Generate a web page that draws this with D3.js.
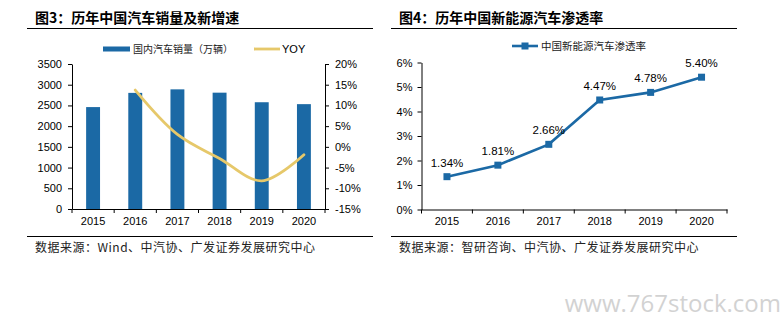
<!DOCTYPE html>
<html>
<head>
<meta charset="utf-8">
<script src="https://cdn.jsdelivr.net/npm/d3@7"></script>
<style>
  body { margin: 0; background: #fff; }
  svg { display: block; }
  .num { font-family: "Liberation Sans Narrow", "Arial Narrow", "Liberation Sans", Arial, sans-serif; font-size: 11px; fill: #000; }
  .cjk { font-family: "Noto Sans CJK SC", sans-serif; }
</style>
</head>
<body>
<div id="chart"></div>
<script>
// years shared by both panels
var years = ["2015", "2016", "2017", "2018", "2019", "2020"];

// panel 3: domestic car sales (10k units) and yoy growth (%)
var salesValues = [2460, 2803, 2888, 2808, 2577, 2531];
var yoyYears = ["2016", "2017", "2018", "2019", "2020"];
var yoyValues = [13.7, 3.0, -2.8, -8.2, -1.9];
var salesTicks = [0, 500, 1000, 1500, 2000, 2500, 3000, 3500];
var yoyTicks = [-15, -10, -5, 0, 5, 10, 15, 20];

// panel 4: new energy vehicle penetration (%)
var nevValues = [1.34, 1.81, 2.66, 4.47, 4.78, 5.40];
var nevTicks = [0, 1, 2, 3, 4, 5, 6];

var blue = "#1b69a5";
var gold = "#e6c86a";

var svg = d3.select("#chart")
  .append("svg")
    .attr("width", 783)
    .attr("height", 323);

svg.append("rect").attr("width", 783).attr("height", 323).attr("fill", "#fff");

// titles, rules and sources
function frame(x0, x1, tx, title, source) {
  svg.append("text")
    .attr("class", "cjk")
    .attr("x", tx).attr("y", 23)
    .style("font-size", "14px").style("font-weight", "bold")
    .text(title);
  svg.append("line")
    .attr("x1", x0).attr("x2", x1).attr("y1", 28.5).attr("y2", 28.5)
    .attr("stroke", "#000").attr("stroke-width", 1.2);
  svg.append("line")
    .attr("x1", x0).attr("x2", x1).attr("y1", 236.5).attr("y2", 236.5)
    .attr("stroke", "#000").attr("stroke-width", 1.2);
  svg.append("text")
    .attr("class", "cjk")
    .attr("x", tx).attr("y", 252)
    .style("font-size", "12px").style("letter-spacing", "0.5px").attr("fill", "#222")
    .text(source);
}
frame(27, 373, 35, "图3：历年中国汽车销量及新增速", "数据来源：Wind、中汽协、广发证券发展研究中心");
frame(391, 737, 399, "图4：历年中国新能源汽车渗透率", "数据来源：智研咨询、中汽协、广发证券发展研究中心");

// category ticks sit on the band edges, labels in the middle
function bottomAxis(x, y0) {
  var g = svg.append("g")
    .attr("class", "num")
    .attr("transform", "translate(0," + y0 + ")")
    .call(d3.axisBottom(x).tickSize(0).tickPadding(8).tickSizeOuter(0));
  g.select(".domain").attr("stroke", "#000");
  g.selectAll("text").attr("class", "num").attr("fill", "#000").attr("font-family", null).attr("font-size", null);
  var edges = x.domain().map(d => x(d)).concat([x.range()[1]]);
  g.selectAll(".edge")
    .data(edges)
    .enter()
    .append("line")
    .attr("x1", d => d).attr("x2", d => d)
    .attr("y1", 0).attr("y2", 4)
    .attr("stroke", "#000");
}

function styleAxis(g) {
  g.select(".domain").attr("stroke", "#000");
  g.selectAll("line").attr("stroke", "#000");
  g.selectAll("text").attr("class", "num").attr("fill", "#000").attr("font-family", null).attr("font-size", null);
}

// ---------- panel 3 ----------
var x3 = d3.scaleBand().domain(years).range([72, 325]);
var yL = d3.scaleLinear().domain([0, 3500]).range([209, 64]);
var yR = d3.scaleLinear().domain([-15, 20]).range([209, 64]);

var barW = x3.bandwidth() * 0.33;
svg.selectAll(".bar")
  .data(years)
  .enter()
  .append("rect")
  .attr("x", d => x3(d) + (x3.bandwidth() - barW) / 2)
  .attr("y", (d, i) => yL(salesValues[i]))
  .attr("width", barW)
  .attr("height", (d, i) => yL(0) - yL(salesValues[i]))
  .attr("fill", blue);

svg.append("g")
  .attr("transform", "translate(72,0)")
  .call(d3.axisLeft(yL).tickValues(salesTicks).tickSize(4).tickPadding(6).tickSizeOuter(0).tickFormat(d3.format("d")))
  .call(styleAxis);

svg.append("g")
  .attr("transform", "translate(325,0)")
  .call(d3.axisRight(yR).tickValues(yoyTicks).tickSize(4).tickPadding(6).tickSizeOuter(0).tickFormat(d => d + "%"))
  .call(styleAxis);

bottomAxis(x3, 209);

var yoyLine = d3.line()
  .x((d, i) => x3(yoyYears[i]) + x3.bandwidth() / 2)
  .y(d => yR(d))
  .curve(d3.curveCatmullRom.alpha(0.5));

svg.append("path")
  .datum(yoyValues)
  .attr("d", yoyLine)
  .attr("fill", "none")
  .attr("stroke", gold)
  .attr("stroke-width", 2.8)
  .attr("stroke-linecap", "round");

// legend
svg.append("rect").attr("x", 103).attr("y", 46.5).attr("width", 27).attr("height", 5).attr("fill", blue);
svg.append("text").attr("class", "cjk").attr("x", 133).attr("y", 53)
  .style("font-size", "10px").attr("fill", "#222").text("国内汽车销量（万辆）");
svg.append("line").attr("x1", 254).attr("x2", 280).attr("y1", 49).attr("y2", 49)
  .attr("stroke", gold).attr("stroke-width", 2.8);
svg.append("text").attr("class", "num").attr("x", 282).attr("y", 53).text("YOY");

// ---------- panel 4 ----------
var x4 = d3.scaleBand().domain(years).range([421.5, 727]);
var y4 = d3.scaleLinear().domain([0, 6]).range([209.5, 62.5]);

svg.append("g")
  .attr("transform", "translate(421.5,0)")
  .call(d3.axisLeft(y4).tickValues(nevTicks).tickSize(4).tickPadding(5).tickSizeOuter(0).tickFormat(d => d + "%"))
  .call(styleAxis);

bottomAxis(x4, 209.5);

var cx = d => x4(d) + x4.bandwidth() / 2;

var nevLine = d3.line()
  .x((d, i) => cx(years[i]))
  .y(d => y4(d));

svg.append("path")
  .datum(nevValues)
  .attr("d", nevLine)
  .attr("fill", "none")
  .attr("stroke", blue)
  .attr("stroke-width", 2.6);

svg.selectAll(".pt")
  .data(nevValues)
  .enter()
  .append("rect")
  .attr("x", (d, i) => cx(years[i]) - 3.5)
  .attr("y", d => y4(d) - 3.5)
  .attr("width", 7).attr("height", 7)
  .attr("fill", blue);

svg.selectAll(".lbl")
  .data(nevValues)
  .enter()
  .append("text")
  .attr("class", "num")
  .attr("x", (d, i) => cx(years[i]))
  .attr("y", d => y4(d) - 10)
  .attr("text-anchor", "middle")
  .style("font-size", "11.5px")
  .text(d => d.toFixed(2) + "%");

// legend
svg.append("line").attr("x1", 512).attr("x2", 538).attr("y1", 46).attr("y2", 46)
  .attr("stroke", blue).attr("stroke-width", 2.6);
svg.append("rect").attr("x", 521.5).attr("y", 42.5).attr("width", 7).attr("height", 7).attr("fill", blue);
svg.append("text").attr("class", "cjk").attr("x", 541).attr("y", 50)
  .style("font-size", "10.5px").attr("fill", "#222").text("中国新能源汽车渗透率");

// site mark
svg.append("text")
  .attr("x", 781).attr("y", 312)
  .attr("text-anchor", "end")
  .style("font-family", "'Open Sans', sans-serif")
  .style("font-size", "24px")
  .attr("fill", "#d2d2d2")
  .text("www.767stock.com");
</script>
</body>
</html>
